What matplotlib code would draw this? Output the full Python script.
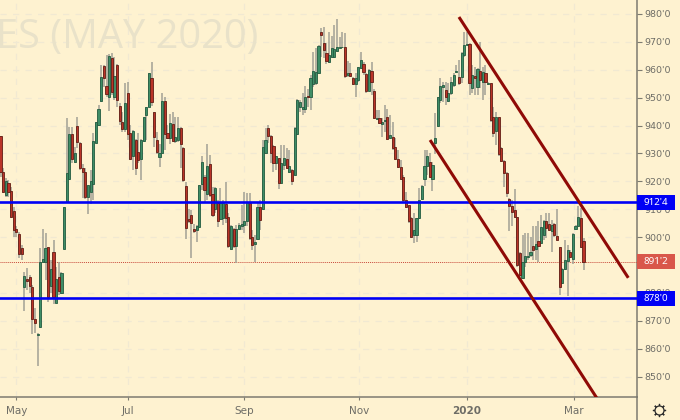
import matplotlib
matplotlib.use("Agg")
import matplotlib.pyplot as plt
import numpy as np
from matplotlib.lines import Line2D
from matplotlib.patches import Rectangle
from matplotlib.transforms import blended_transform_factory

# daily candles, prices in cents per bushel
opens = [
    936.3, 923.5, 915.1, 919.3, 916.5, 909.4, 902.8, 901.1, 896.0, 882.0,
    885.1, 885.6, 882.0, 870.5, 865.0, 867.7, 891.2, 891.2, 896.4, 882.5,
    894.6, 876.5, 885.6, 879.9, 895.9, 912.6, 920.8, 936.9, 926.8, 939.8,
    933.9, 924.6, 923.2, 914.5, 916.3, 918.9, 933.9, 940.1, 948.9, 961.4,
    954.2, 950.1, 964.1, 950.4, 961.7, 947.0, 941.2, 938.7, 951.6, 937.2,
    928.9, 934.8, 930.6, 927.9, 934.6, 943.6, 946.5, 956.9, 945.0, 934.8,
    928.6, 930.3, 948.8, 937.2, 935.4, 940.4, 934.6, 934.8, 939.0, 931.8,
    918.3, 906.4, 907.9, 903.0, 902.6, 903.5, 918.9, 921.7, 915.5, 926.3,
    915.3, 910.0, 912.1, 906.4, 906.7, 911.9, 907.1, 895.9, 902.9, 896.9,
    902.8, 903.8, 904.4, 905.6, 912.1, 899.9, 897.5, 899.2, 910.9, 910.1,
    930.3, 939.0, 936.3, 932.7, 926.5, 928.3, 919.5, 925.9, 927.9, 923.2,
    924.1, 922.3, 936.9, 946.8, 946.1, 945.8, 950.5, 950.2, 954.9, 955.1,
    959.0, 973.4, 969.5, 966.1, 962.9, 964.5, 964.7, 966.7, 967.9, 968.1,
    968.2, 958.0, 958.7, 956.9, 954.9, 956.3, 960.5, 962.1, 958.6, 952.5,
    959.4, 952.4, 942.2, 942.6, 940.4, 941.8, 943.2, 935.4, 936.0, 932.2,
    928.0, 925.3, 921.4, 913.3, 911.4, 906.7, 900.7, 900.7, 906.7, 913.6,
    920.7, 925.6, 927.1, 920.7, 933.9, 939.7, 949.2, 953.7, 952.8, 948.9,
    951.6, 954.5, 959.2, 957.5, 957.5, 965.3, 968.9, 969.1, 953.4, 957.9,
    953.7, 959.6, 955.5, 959.0, 954.9, 955.1, 943.0, 938.2, 943.0, 931.8,
    927.4, 923.1, 913.6, 911.2, 909.7, 907.1, 894.2, 885.2, 891.2, 893.0,
    893.6, 896.8, 895.6, 898.7, 897.8, 900.8, 905.9, 904.7, 902.1, 904.7,
    900.4, 896.4, 883.4, 888.5, 891.6, 894.8, 892.2, 903.0, 904.1, 906.9,
    898.7,
]
highs = [
    936.3, 924.7, 921.1, 920.5, 918.1, 910.9, 903.8, 902.0, 897.2, 887.6,
    888.8, 886.4, 882.8, 874.5, 865.5, 896.0, 902.8, 901.4, 896.6, 891.8,
    899.0, 889.4, 890.9, 887.6, 910.9, 942.6, 939.6, 939.6, 932.4, 943.2,
    934.2, 926.2, 924.7, 918.7, 924.1, 937.2, 941.4, 947.4, 961.7, 961.7,
    965.3, 965.5, 965.9, 964.5, 962.0, 948.0, 945.0, 955.1, 955.7, 940.2,
    938.4, 935.1, 937.2, 935.1, 943.2, 946.8, 958.9, 962.9, 945.0, 937.8,
    933.4, 951.8, 950.4, 940.2, 944.1, 945.0, 943.2, 943.2, 939.6, 932.4,
    919.9, 910.0, 909.7, 904.7, 904.4, 918.8, 928.9, 922.3, 933.3, 929.5,
    918.1, 918.1, 913.3, 917.5, 913.3, 919.9, 908.5, 904.4, 903.2, 904.4,
    905.0, 911.5, 916.3, 915.7, 915.7, 902.6, 900.8, 912.1, 913.3, 934.8,
    939.0, 940.2, 936.6, 933.0, 928.9, 928.5, 932.9, 932.9, 931.8, 931.2,
    924.3, 939.6, 949.5, 949.2, 951.6, 954.2, 953.0, 958.1, 966.5, 967.7,
    968.8, 975.1, 975.2, 969.7, 973.7, 972.1, 976.1, 978.2, 971.9, 973.7,
    973.1, 963.3, 962.3, 957.5, 958.7, 961.1, 966.5, 962.9, 959.0, 960.2,
    962.6, 953.1, 945.6, 945.6, 942.6, 947.4, 945.9, 943.8, 941.4, 935.4,
    931.2, 927.7, 922.3, 916.3, 911.6, 907.3, 908.5, 906.7, 917.5, 918.7,
    931.2, 931.2, 930.0, 927.1, 944.4, 950.4, 956.9, 955.7, 955.7, 955.1,
    957.5, 958.7, 961.7, 963.5, 966.5, 973.7, 973.7, 969.5, 961.7, 961.1,
    960.5, 970.1, 961.1, 961.7, 955.7, 955.4, 946.5, 945.0, 943.2, 932.4,
    927.7, 923.5, 913.9, 913.3, 917.1, 907.3, 894.8, 900.8, 901.4, 901.4,
    900.2, 903.8, 903.8, 905.6, 907.9, 906.1, 908.5, 908.5, 906.1, 905.0,
    910.0, 896.6, 888.8, 899.0, 897.2, 895.4, 901.4, 904.4, 911.2, 910.3,
    899.6,
]
lows = [
    921.7, 915.7, 914.5, 914.5, 906.7, 900.2, 900.2, 892.4, 891.8, 873.6,
    881.1, 879.9, 865.2, 865.5, 853.8, 867.3, 890.6, 884.6, 876.9, 879.9,
    876.0, 876.3, 879.3, 879.6, 895.6, 912.1, 920.5, 926.5, 926.5, 931.8,
    924.1, 913.9, 913.6, 908.2, 911.9, 913.3, 933.6, 939.8, 948.6, 953.9,
    950.4, 945.3, 951.0, 949.2, 946.8, 940.2, 937.8, 937.8, 934.8, 927.7,
    924.1, 922.3, 926.5, 920.5, 934.2, 934.8, 946.5, 947.1, 932.4, 929.8,
    925.0, 930.0, 931.2, 935.1, 933.4, 934.2, 933.6, 934.2, 924.7, 919.9,
    899.3, 905.0, 892.4, 901.4, 898.4, 903.2, 916.9, 912.7, 913.3, 914.5,
    907.3, 908.5, 903.5, 906.1, 904.4, 905.0, 896.0, 895.4, 896.0, 890.6,
    902.6, 902.6, 901.4, 903.8, 899.0, 895.4, 890.9, 899.0, 902.6, 909.7,
    930.0, 933.6, 926.5, 923.5, 924.1, 917.1, 919.3, 924.1, 924.4, 922.9,
    918.7, 921.9, 936.6, 945.0, 943.8, 944.4, 946.8, 945.6, 953.9, 954.5,
    958.7, 964.7, 964.1, 962.1, 962.3, 964.1, 964.1, 966.5, 967.7, 967.7,
    956.9, 957.5, 957.3, 954.5, 950.1, 955.7, 960.2, 958.1, 951.6, 952.2,
    951.0, 942.2, 942.0, 940.6, 936.0, 937.8, 934.8, 935.1, 931.2, 927.7,
    924.7, 920.5, 912.7, 910.3, 905.2, 899.6, 898.0, 898.4, 906.4, 913.3,
    918.3, 922.3, 921.1, 916.7, 929.8, 939.4, 948.0, 948.6, 947.4, 948.6,
    951.0, 953.9, 958.7, 954.5, 955.1, 964.7, 968.9, 951.0, 951.6, 951.0,
    951.0, 953.4, 949.2, 951.0, 954.5, 941.4, 936.0, 933.0, 929.1, 927.1,
    918.1, 914.3, 902.3, 903.8, 906.7, 889.4, 885.8, 884.9, 889.4, 891.8,
    893.0, 891.8, 891.8, 891.2, 897.8, 899.0, 899.6, 902.6, 894.8, 900.2,
    899.0, 879.3, 883.1, 888.2, 878.9, 892.4, 890.4, 903.2, 903.8, 896.0,
    888.2,
]
closes = [
    923.5, 916.3, 920.1, 916.3, 907.3, 902.6, 902.0, 893.8, 894.0, 886.1,
    884.4, 882.3, 870.7, 869.3, 865.2, 891.2, 892.2, 896.0, 878.4, 888.5,
    878.4, 884.9, 880.7, 887.0, 910.7, 922.9, 937.0, 927.9, 930.0, 934.2,
    924.6, 923.4, 914.5, 918.6, 920.1, 934.6, 941.2, 945.9, 957.3, 957.2,
    951.3, 964.9, 951.9, 957.8, 949.2, 941.8, 938.7, 948.0, 936.9, 928.1,
    938.1, 924.7, 927.7, 934.8, 943.0, 946.5, 958.7, 948.5, 936.0, 930.6,
    930.0, 948.8, 937.0, 935.4, 940.8, 934.5, 935.8, 939.0, 933.3, 920.5,
    903.4, 905.6, 905.2, 902.2, 903.8, 918.6, 927.1, 916.9, 925.5, 915.1,
    907.9, 917.5, 905.6, 912.4, 912.4, 907.0, 896.9, 904.1, 896.9, 902.8,
    904.4, 904.6, 905.9, 912.6, 899.8, 897.2, 898.1, 910.9, 906.1, 932.2,
    934.8, 936.3, 930.3, 926.5, 928.9, 919.3, 926.5, 928.5, 924.7, 925.5,
    920.2, 939.0, 949.2, 948.6, 946.5, 950.1, 950.1, 956.9, 959.6, 959.3,
    968.5, 972.6, 966.9, 963.2, 965.3, 967.7, 967.3, 968.3, 968.3, 968.3,
    957.7, 958.8, 957.9, 954.9, 956.9, 960.9, 963.4, 959.1, 952.5, 959.9,
    955.5, 942.6, 942.8, 940.8, 941.2, 942.0, 935.2, 936.6, 931.8, 928.0,
    925.0, 920.7, 913.3, 910.7, 905.6, 899.9, 902.6, 906.7, 913.3, 918.3,
    925.6, 929.2, 921.7, 925.9, 935.4, 950.1, 954.3, 954.4, 950.1, 951.6,
    955.7, 958.1, 959.6, 955.4, 965.9, 968.9, 969.2, 955.1, 958.1, 957.2,
    960.2, 956.3, 959.3, 955.7, 955.4, 942.0, 937.2, 943.0, 929.7, 927.4,
    923.1, 915.7, 911.2, 908.9, 907.1, 890.0, 886.4, 891.0, 893.2, 893.4,
    894.8, 895.2, 897.4, 896.9, 903.5, 905.9, 903.2, 902.6, 904.5, 900.8,
    899.0, 882.2, 888.5, 891.8, 895.2, 892.8, 901.0, 903.8, 907.1, 896.6,
    891.2,
]

month_ticks = [6, 48, 92, 135.4, 176, 216.4]
month_labels = ["May", "Jul", "Sep", "Nov", "2020", "Mar"]
# 890 sits fully behind the last price box in the reference
price_ticks = [p for p in range(850, 990, 10) if p != 890]

support = 878.0
resistance = 912.5
last_price = 891.25
upper_channel = ([173.0, 236.9], [978.9, 885.4])
lower_channel = ([162.1, 225.5], [934.8, 841.6])

BG = "#fef2d0"
GRID = "#f1e9d2"
AXIS = "#7d7b70"
TEXT = "#6e6d66"

W, H = 680, 420
RIGHT, BOTTOM = 636.5, 397

fig = plt.figure(figsize=(W / 100, H / 100), dpi=100, facecolor=BG)
ax = fig.add_axes([0, 1 - BOTTOM / H, RIGHT / W, BOTTOM / H], facecolor=BG)
plt.rcParams["font.family"] = "Noto Sans"

x = np.arange(len(opens))
o, h, l, c = map(np.array, (opens, highs, lows, closes))
up = c >= o

ax.vlines(x, l, h, color="#a5a497", lw=1.15, zorder=3)
ax.bar(x[up], np.maximum(c[up] - o[up], 0.2), bottom=o[up], width=0.82,
       color="#3f8d66", edgecolor="#215a3f", lw=0.6, zorder=4)
ax.bar(x[~up], np.maximum(o[~up] - c[~up], 0.2), bottom=c[~up], width=0.82,
       color="#ba3428", edgecolor="#611c13", lw=0.6, zorder=4)

# levels and channel
ax.axhline(resistance, color="#0000f5", lw=1.9, zorder=5)
ax.axhline(support, color="#0000f5", lw=1.9, zorder=5)
ax.axhline(last_price, color="#c8493a", lw=0.7, ls=(0, (1, 1)), zorder=2.8)
ax.plot(*upper_channel, color="#8f0a06", lw=2.2, solid_capstyle="butt", zorder=6)
ax.plot(*lower_channel, color="#8f0a06", lw=2.2, solid_capstyle="butt", zorder=6)

ax.text(258 / RIGHT, 1 - 48 / BOTTOM, "ES (MAY 2020)", transform=ax.transAxes,
        ha="right", va="baseline", fontsize=28.6, color="#e9e2c9",
        family="Open Sans", zorder=1, clip_on=True)

ax.set_xlim(-0.19, 240)
ax.set_ylim(841.6 + (400 - BOTTOM) / 2.79, 985.0)

ax.yaxis.tick_right()
ax.set_yticks(price_ticks)
ax.set_yticklabels([f"{p}'0" for p in price_ticks])
ax.set_xticks(month_ticks)
ax.set_xticklabels(month_labels)
ax.tick_params(axis="y", length=3.5, width=0.8, color=AXIS, labelcolor=TEXT,
               labelsize=6.8, pad=2.5)
ax.tick_params(axis="x", length=2.5, width=0.8, color=AXIS, labelcolor=TEXT,
               labelsize=7.5, pad=4)
ax.get_xticklabels()[4].set_fontweight("bold")

ax.grid(True, color=GRID, lw=0.9, ls=(0, (5, 5)), zorder=0)
ax.set_axisbelow(True)

for side in ("top", "left"):
    ax.spines[side].set_visible(False)
for side in ("right", "bottom"):
    ax.spines[side].set_color(AXIS)
    ax.spines[side].set_linewidth(1.1)

# the price scale runs on below the time axis
fig.add_artist(Line2D([RIGHT / W] * 2, [0, 1 - BOTTOM / H], color=AXIS, lw=1.1))

# boxes over the price scale
box_tf = blended_transform_factory(fig.transFigure, ax.transData)
for price, label, color in [(resistance, "912'4", "#0000f5"),
                            (last_price, "891'2", "#d9574a"),
                            (support, "878'0", "#0000f5")]:
    ax.add_patch(Rectangle((RIGHT / W, price - 2.7), 38.5 / W, 5.4, transform=box_tf,
                           color=color, lw=0, clip_on=False, zorder=7))
    ax.text(655.5 / W, price - 0.1, label, transform=box_tf, color="white",
            fontsize=7, fontweight="bold", ha="center", va="center",
            clip_on=False, zorder=8)

# settings icon
gx, gy = 658.5 / W, 1 - 409.5 / H
fig.add_artist(Line2D([gx], [gy], marker=(8, 2, 0), ms=9.5, mew=0.9, color="#2b2b2b",
                      transform=fig.transFigure))
fig.add_artist(Line2D([gx], [gy], marker="o", ms=6.5, mew=0.9, mfc=BG, mec="#2b2b2b",
                      transform=fig.transFigure))

fig.savefig("out.png", dpi=100, facecolor=BG)
